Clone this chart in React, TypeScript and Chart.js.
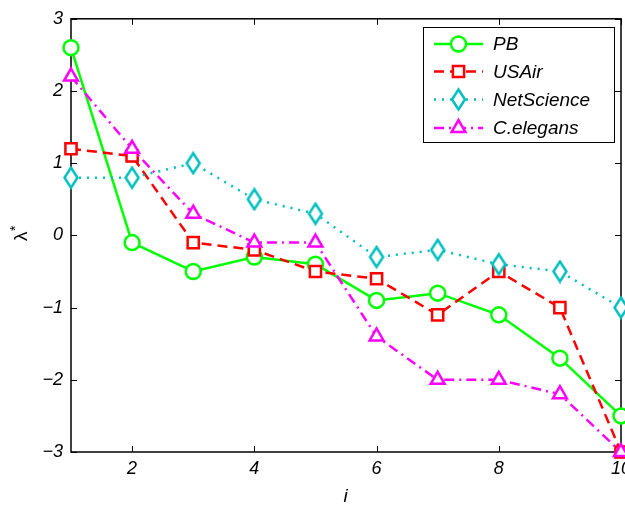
import React, { useEffect, useRef } from 'react';
import { Chart, registerables } from 'chart.js';

Chart.register(...registerables);

// ---- data ----
const indices = [1, 2, 3, 4, 5, 6, 7, 8, 9, 10];
const pbValues = [2.6, -0.1, -0.5, -0.3, -0.4, -0.9, -0.8, -1.1, -1.7, -2.5];
const usairValues = [1.2, 1.1, -0.1, -0.2, -0.5, -0.6, -1.1, -0.5, -1.0, -3.0];
const netscienceValues = [0.8, 0.8, 1.0, 0.5, 0.3, -0.3, -0.2, -0.4, -0.5, -1.0];
const celegansValues = [2.2, 1.2, 0.3, -0.1, -0.1, -1.4, -2.0, -2.0, -2.2, -3.0];
const seriesNames = ['PB', 'USAir', 'NetScience', 'C.elegans'];
const xTicks = [2, 4, 6, 8, 10];
const yTicks = [-3, -2, -1, 0, 1, 2, 3];
const xLabel = 'i';
const yLabelMain = 'λ';
const yLabelSup = '*';

// ---- layout / style ----
const CANVAS_W = 660;
const CANVAS_H = 506;
const AREA_LEFT = 71;
const AREA_RIGHT = 621;
const AREA_TOP = 18;
const AREA_BOTTOM = 452;
const FONT_FAMILY = "'Liberation Sans', Arial, Helvetica, sans-serif";

const COLORS = ['#00ff00', '#ff0000', '#00bfbf', '#ff00ff'];
const DASHES: number[][] = [[], [10, 6], [2, 6], [10, 5, 2, 5]];
const LINE_W = 2.5;

function makeDiamond(color: string): HTMLCanvasElement {
  const c = document.createElement('canvas');
  c.width = 18;
  c.height = 24;
  const g = c.getContext('2d')!;
  g.lineWidth = 2.5;
  g.strokeStyle = color;
  g.fillStyle = '#fff';
  g.beginPath();
  g.moveTo(9, 2);
  g.lineTo(15.5, 12);
  g.lineTo(9, 22);
  g.lineTo(2.5, 12);
  g.closePath();
  g.fill();
  g.stroke();
  return c;
}

function drawLegendMarker(ctx: CanvasRenderingContext2D, idx: number, x: number, y: number) {
  ctx.save();
  ctx.setLineDash([]);
  ctx.lineWidth = LINE_W;
  ctx.strokeStyle = COLORS[idx];
  ctx.fillStyle = '#fff';
  ctx.beginPath();
  if (idx === 0) {
    ctx.arc(x, y, 7.5, 0, Math.PI * 2);
  } else if (idx === 1) {
    ctx.rect(x - 5.6, y - 5.6, 11.2, 11.2);
  } else if (idx === 2) {
    ctx.moveTo(x, y - 10);
    ctx.lineTo(x + 6.5, y);
    ctx.lineTo(x, y + 10);
    ctx.lineTo(x - 6.5, y);
    ctx.closePath();
  } else {
    const r = 8;
    for (let k = 0; k < 3; k++) {
      const a = (k * 2 * Math.PI) / 3;
      const px = x + Math.sin(a) * r;
      const py = y - Math.cos(a) * r;
      if (k === 0) ctx.moveTo(px, py);
      else ctx.lineTo(px, py);
    }
    ctx.closePath();
  }
  ctx.fill();
  ctx.stroke();
  ctx.restore();
}

const framePlugin = {
  id: 'matlabFrame',
  beforeDatasetsDraw(chart: any) {
    const { ctx, chartArea: a, scales } = chart;
    const x = scales.x;
    const y = scales.y;
    ctx.save();
    ctx.strokeStyle = '#000';
    ctx.lineWidth = 1.5;
    ctx.setLineDash([]);
    ctx.strokeRect(a.left, a.top, a.right - a.left, a.bottom - a.top);
    ctx.lineWidth = 1;
    ctx.beginPath();
    const TL = 6;
    for (const v of xTicks) {
      const px = Math.round(x.getPixelForValue(v)) + 0.5;
      ctx.moveTo(px, a.bottom);
      ctx.lineTo(px, a.bottom - TL);
      ctx.moveTo(px, a.top);
      ctx.lineTo(px, a.top + TL);
    }
    for (const v of yTicks) {
      const py = Math.round(y.getPixelForValue(v)) + 0.5;
      ctx.moveTo(a.left, py);
      ctx.lineTo(a.left + TL, py);
      ctx.moveTo(a.right, py);
      ctx.lineTo(a.right - TL, py);
    }
    ctx.stroke();

    // axis titles
    ctx.fillStyle = '#000';
    ctx.font = `italic 19px ${FONT_FAMILY}`;
    ctx.textAlign = 'center';
    ctx.textBaseline = 'alphabetic';
    ctx.fillText(xLabel, (a.left + 551 / 2 + a.left + 551 / 2) / 2 - 1, 502);

    ctx.save();
    ctx.translate(27, 241);
    ctx.rotate(-Math.PI / 2);
    ctx.font = `19px ${FONT_FAMILY}`;
    ctx.textAlign = 'left';
    const w = ctx.measureText(yLabelMain).width;
    ctx.fillText(yLabelMain, 0, 0);
    ctx.font = `14px ${FONT_FAMILY}`;
    ctx.fillText(yLabelSup, w + 0.5, -7);
    ctx.restore();

    ctx.restore();
  },
  afterDraw(chart: any) {
    const { ctx } = chart;
    ctx.save();
    const bx = 423.5, by = 27.5, bw = 191, bh = 115;
    ctx.fillStyle = '#fff';
    ctx.fillRect(bx, by, bw, bh);
    ctx.strokeStyle = '#000';
    ctx.lineWidth = 1;
    ctx.setLineDash([]);
    ctx.strokeRect(bx, by, bw, bh);
    const rows = [44, 71.5, 99.5, 128];
    seriesNames.forEach((name, i) => {
      const ry = rows[i];
      ctx.save();
      ctx.strokeStyle = COLORS[i];
      ctx.lineWidth = LINE_W;
      ctx.setLineDash(DASHES[i]);
      ctx.beginPath();
      ctx.moveTo(434, ry);
      ctx.lineTo(483, ry);
      ctx.stroke();
      ctx.restore();
      drawLegendMarker(ctx, i, 458.5, ry);
      ctx.fillStyle = '#000';
      ctx.font = `italic 19px ${FONT_FAMILY}`;
      ctx.textAlign = 'left';
      ctx.textBaseline = 'middle';
      ctx.fillText(name, 493, ry + 1);
    });
    ctx.restore();
  },
};

const fmt = (v: number) => (v < 0 ? '\u2212' + Math.abs(v) : String(v));

export default function App() {
  const ref = useRef<HTMLCanvasElement | null>(null);

  useEffect(() => {
    if (!ref.current) return;
    const diamond = makeDiamond(COLORS[2]);
    const seriesValues = [pbValues, usairValues, netscienceValues, celegansValues];
    const styles: any[] = ['circle', 'rect', diamond, 'triangle'];
    const radii = [7.5, 7.9, 9, 8];
    const datasets = seriesNames.map((name, i) => ({
      label: name,
      data: indices.map((xv, k) => ({ x: xv, y: seriesValues[i][k] })),
      borderColor: COLORS[i],
      backgroundColor: COLORS[i],
      borderWidth: LINE_W,
      borderDash: DASHES[i],
      pointStyle: styles[i],
      pointRadius: radii[i],
      pointBorderWidth: LINE_W,
      pointBorderColor: COLORS[i],
      pointBackgroundColor: '#ffffff',
      tension: 0,
      clip: false as any,
      order: 4 - i,
    }));

    const chart = new Chart(ref.current, {
      type: 'line',
      data: { datasets },
      options: {
        animation: false,
        responsive: false,
        devicePixelRatio: 1,
        layout: {
          padding: { top: AREA_TOP, right: CANVAS_W - AREA_RIGHT, left: 0, bottom: 0 },
        },
        plugins: {
          legend: { display: false },
          tooltip: { enabled: false },
        },
        scales: {
          x: {
            type: 'linear',
            min: 1,
            max: 10,
            grid: { display: false, drawTicks: false },
            border: { display: false },
            afterBuildTicks: (s: any) => {
              s.ticks = xTicks.map((v) => ({ value: v }));
            },
            afterFit: (s: any) => {
              s.height = CANVAS_H - AREA_BOTTOM;
            },
            ticks: {
              color: '#000',
              padding: 6,
              maxRotation: 0,
              autoSkip: false,
              font: { family: FONT_FAMILY, size: 18, style: 'italic' },
              callback: (v: any) => fmt(Number(v)),
            },
          },
          y: {
            type: 'linear',
            min: -3,
            max: 3,
            grid: { display: false, drawTicks: false },
            border: { display: false },
            afterBuildTicks: (s: any) => {
              s.ticks = yTicks.map((v) => ({ value: v }));
            },
            afterFit: (s: any) => {
              s.width = AREA_LEFT;
            },
            ticks: {
              color: '#000',
              padding: 8,
              autoSkip: false,
              font: { family: FONT_FAMILY, size: 18, style: 'italic' },
              callback: (v: any) => fmt(Number(v)),
            },
          },
        },
      },
      plugins: [framePlugin],
    });
    return () => chart.destroy();
  }, []);

  return (
    <div
      style={{
        position: 'fixed',
        left: 0,
        top: 0,
        width: 625,
        height: 506,
        overflow: 'hidden',
        background: '#fff',
      }}
    >
      <canvas ref={ref} width={CANVAS_W} height={CANVAS_H} style={{ width: CANVAS_W, height: CANVAS_H, display: 'block' }} />
    </div>
  );
}
